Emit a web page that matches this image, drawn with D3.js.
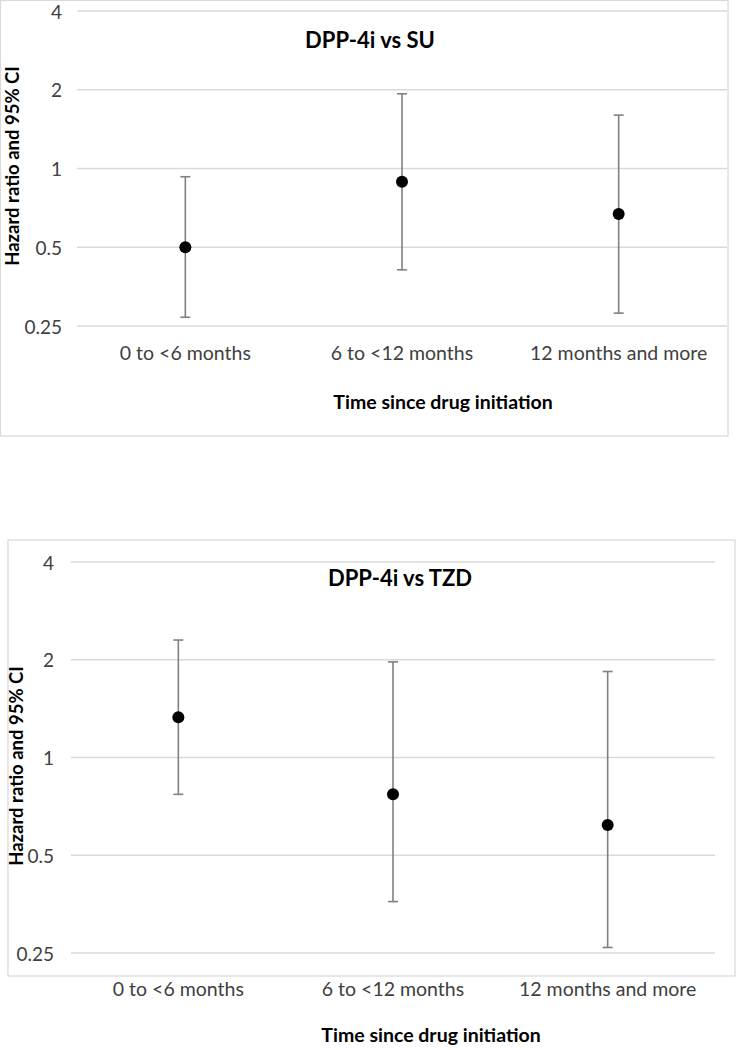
<!DOCTYPE html>
<html>
<head>
<meta charset="utf-8">
<script src="https://cdn.jsdelivr.net/npm/d3@7"></script>
<style>
  html, body { margin: 0; padding: 0; background: #fff; }
  svg { display: block; font-family: Lato, "Open Sans", sans-serif; }
</style>
</head>
<body>
<svg id="chart" width="738" height="1050"></svg>
<script>
// ---- data ----
const categories = ["0 to <6 months", "6 to <12 months", "12 months and more"];
const yTickValues = [0.25, 0.5, 1, 2, 4];
const yTickLabels = ["0.25", "0.5", "1", "2", "4"];

const suTitle = "DPP-4i vs SU";
const suHR = [0.50, 0.89, 0.67];
const suLower = [0.27, 0.41, 0.28];
const suUpper = [0.93, 1.93, 1.60];

const tzdTitle = "DPP-4i vs TZD";
const tzdHR = [1.33, 0.77, 0.62];
const tzdLower = [0.77, 0.36, 0.26];
const tzdUpper = [2.30, 1.97, 1.84];

const yAxisTitle = "Hazard ratio and 95% CI";
const xAxisTitle = "Time since drug initiation";

// ---- drawing ----
const svg = d3.select("#chart");

function drawPanel(opt, hr, lo, hi, title) {
  const g = svg.append("g");
  // frame
  g.append("rect")
    .attr("x", opt.box[0]).attr("y", opt.box[1])
    .attr("width", opt.box[2] - opt.box[0]).attr("height", opt.box[3] - opt.box[1])
    .attr("fill", "none").attr("stroke", "#d9d9d9").attr("stroke-width", 1.2);

  const x = d3.scaleBand().domain(categories).range([opt.plot[0], opt.plot[1]]);
  const y = d3.scaleLog().base(2).domain([0.25, 4]).range([opt.plot[3], opt.plot[2]]);

  // gridlines
  g.append("g").selectAll("line").data(yTickValues).join("line")
    .attr("x1", opt.plot[0]).attr("x2", opt.plot[1])
    .attr("y1", d => y(d)).attr("y2", d => y(d))
    .attr("stroke", "#d9d9d9").attr("stroke-width", 1.3);

  // y axis labels
  const yAxis = d3.axisLeft(y).tickValues(yTickValues)
    .tickFormat((d, i) => yTickLabels[i]).tickSize(0).tickPadding(0);
  const ya = g.append("g").attr("transform", `translate(${opt.tickX},0)`).call(yAxis);
  ya.select(".domain").remove();
  ya.selectAll("text").attr("font-size", 19).attr("fill", "#404040")
    .attr("font-family", "Lato, sans-serif").attr("dy", "0.38em");

  // x axis category labels
  const xAxis = d3.axisBottom(x).tickSize(0).tickPadding(0);
  const xa = g.append("g").attr("transform", `translate(0,${opt.catY})`).call(xAxis);
  xa.select(".domain").remove();
  xa.selectAll("text").attr("font-size", 19.5).attr("fill", "#404040")
    .attr("font-family", "Lato, sans-serif").attr("dy", "0.32em");

  const cx = c => x(c) + x.bandwidth() / 2;
  const cap = 5;
  const eb = g.append("g").attr("stroke", "#808080").attr("stroke-width", 1.6);
  categories.forEach((c, i) => {
    eb.append("line").attr("x1", cx(c)).attr("x2", cx(c)).attr("y1", y(lo[i])).attr("y2", y(hi[i]));
    eb.append("line").attr("x1", cx(c) - cap).attr("x2", cx(c) + cap).attr("y1", y(lo[i])).attr("y2", y(lo[i]));
    eb.append("line").attr("x1", cx(c) - cap).attr("x2", cx(c) + cap).attr("y1", y(hi[i])).attr("y2", y(hi[i]));
  });
  g.append("g").selectAll("circle").data(categories).join("circle")
    .attr("cx", d => cx(d)).attr("cy", (d, i) => y(hr[i])).attr("r", 6).attr("fill", "#000");

  // title
  g.append("text").attr("x", opt.titleX).attr("y", opt.titleY)
    .attr("text-anchor", "middle").attr("font-size", 22).attr("font-weight", "bold")
    .attr("fill", "#000").text(title);

  // y axis title
  g.append("text")
    .attr("transform", `translate(${opt.yTitle[0]},${opt.yTitle[1]}) rotate(-90)`)
    .attr("text-anchor", "middle").attr("dy", "0.35em")
    .attr("font-size", 18.5).attr("font-weight", "bold").attr("fill", "#000")
    .text(yAxisTitle);

  // x axis title
  g.append("text").attr("x", opt.xTitle[0]).attr("y", opt.xTitle[1])
    .attr("text-anchor", "middle").attr("dy", "0.35em")
    .attr("font-size", 19.5).attr("font-weight", "bold").attr("fill", "#000")
    .text(xAxisTitle);
}

drawPanel({
  box: [0.5, 0.5, 728, 436],
  plot: [77, 727, 11, 326],
  tickX: 62,
  catY: 354,
  titleX: 370, titleY: 48,
  yTitle: [13, 166],
  xTitle: [443, 402]
}, suHR, suLower, suUpper, suTitle);

drawPanel({
  box: [8, 540, 735, 976],
  plot: [71, 715, 562, 953],
  tickX: 54,
  catY: 990,
  titleX: 400, titleY: 586,
  yTitle: [17, 766],
  xTitle: [431, 1035]
}, tzdHR, tzdLower, tzdUpper, tzdTitle);
</script>
</body>
</html>
